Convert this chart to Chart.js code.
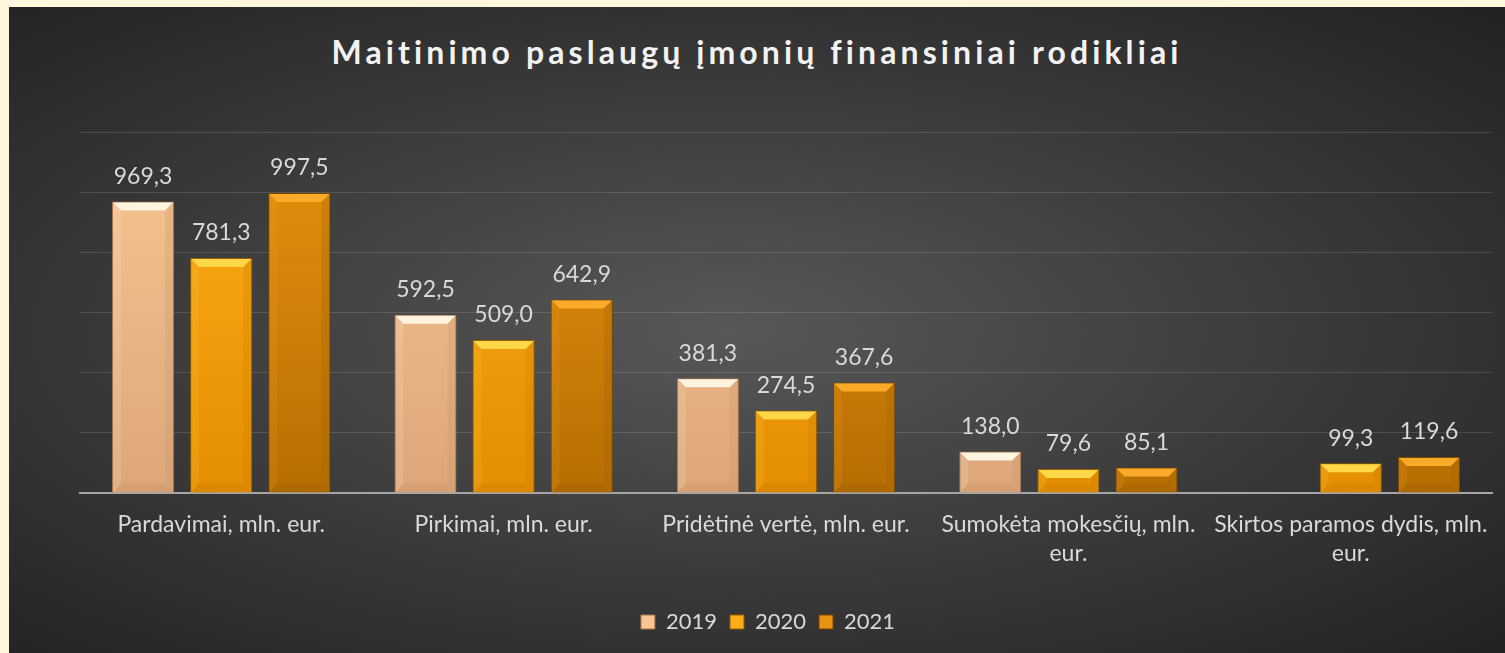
<!DOCTYPE html>
<html>
<head>
<meta charset="utf-8">
<script src="https://cdn.jsdelivr.net/npm/chart.js@4.4.1/dist/chart.umd.min.js"></script>
<style>
    html, body { margin: 0; padding: 0; background: #fff7dc; }
    #fonas {
        position: absolute; left: 9px; top: 7px; width: 1496px; height: 646px;
        background: radial-gradient(ellipse at 48% 50%, #585858 0%, #3c3c3c 50%, #222222 100%);
    }
    #antraste {
        position: absolute; left: 0; top: 25px; width: 100%; text-align: center;
        font: bold 32px Lato, sans-serif; letter-spacing: 4.1px; color: #f2f2f2;
    }
    #grafikas { position: absolute; left: 0; top: 0; }
</style>
</head>
<body>
<div id="fonas">
    <div id="antraste">Maitinimo paslaugų įmonių finansiniai rodikliai</div>
    <canvas id="grafikas" width="1496" height="646"></canvas>
</div>
<script>
/* maitinimo rodikliai */

var kategorijos = [
    "Pardavimai, mln. eur.",
    "Pirkimai, mln. eur.",
    "Pridėtinė vertė, mln. eur.",
    ["Sumokėta mokesčių, mln.", "eur."],
    ["Skirtos paramos dydis, mln.", "eur."]
];
var metai = ["2019", "2020", "2021"];
var reiksmes2019 = [969.3, 592.5, 381.3, 138.0, null];
var reiksmes2020 = [781.3, 509.0, 274.5, 79.6, 99.3];
var reiksmes2021 = [997.5, 642.9, 367.6, 85.1, 119.6];

// spalvos: virsus, apacia, nuozulnus krastas, remelis
var spalvos = [
    { virsus: "#f9c693", apacia: "#dca67a", sviesa: "#fff4df", tamsa: "#c8946a", remas: "#a8724a" },
    { virsus: "#ffad18", apacia: "#e48e02", sviesa: "#ffd84a", tamsa: "#c97c00", remas: "#9a5e00" },
    { virsus: "#e8920f", apacia: "#b66e02", sviesa: "#f8aa28", tamsa: "#9c5e00", remas: "#7a4600" }
];

function gradientas(i) {
    return function (context) {
        var chart = context.chart;
        var area = chart.chartArea;
        if (!area) return spalvos[i].virsus;
        var g = chart.ctx.createLinearGradient(0, area.top, 0, area.bottom);
        g.addColorStop(0, spalvos[i].virsus);
        g.addColorStop(1, spalvos[i].apacia);
        return g;
    };
}

function skaicius(v) {
    return v.toFixed(1).replace(".", ",");
}

// legenda truputi i kaire
var legendosPoslinkis = {
    id: "legendosPoslinkis",
    afterLayout: function (chart) {
        chart.legend.left -= 18;
        chart.legend.right -= 18;
    }
};

// nuozulnus stulpeliu krastas + reiksmiu uzrasai
var briaunos = {
    id: "briaunos",
    afterDatasetsDraw: function (chart) {
        var ctx = chart.ctx;
        chart.data.datasets.forEach(function (ds, i) {
            var meta = chart.getDatasetMeta(i);
            meta.data.forEach(function (bar, j) {
                if (ds.data[j] == null) return;
                var p = bar.getProps(["x", "y", "base", "width"], true);
                var l = p.x - p.width / 2, r = p.x + p.width / 2;
                var t = p.y, b = p.base;
                var d = Math.min(9, (b - t) / 2);
                ctx.save();
                ctx.fillStyle = spalvos[i].sviesa;
                ctx.beginPath();
                ctx.moveTo(l + 1, t + 1); ctx.lineTo(r - 1, t + 1);
                ctx.lineTo(r - d, t + d); ctx.lineTo(l + d, t + d);
                ctx.closePath(); ctx.fill();
                ctx.globalAlpha = 0.35;
                ctx.fillStyle = spalvos[i].tamsa;
                ctx.beginPath();
                ctx.moveTo(l + 1, b); ctx.lineTo(r - 1, b);
                ctx.lineTo(r - d, b - d); ctx.lineTo(l + d, b - d);
                ctx.closePath(); ctx.fill();
                ctx.globalAlpha = 0.25;
                ctx.beginPath();
                ctx.moveTo(r - 1, t + 1); ctx.lineTo(r - 1, b);
                ctx.lineTo(r - d, b - d); ctx.lineTo(r - d, t + d);
                ctx.closePath(); ctx.fill();
                ctx.globalAlpha = 0.15;
                ctx.fillStyle = spalvos[i].sviesa;
                ctx.beginPath();
                ctx.moveTo(l + 1, t + 1); ctx.lineTo(l + 1, b);
                ctx.lineTo(l + d, b - d); ctx.lineTo(l + d, t + d);
                ctx.closePath(); ctx.fill();
                ctx.restore();

                ctx.save();
                ctx.font = "23px Lato, sans-serif";
                ctx.fillStyle = "#d9d9d9";
                ctx.textAlign = "center";
                ctx.textBaseline = "middle";
                ctx.fillText(skaicius(ds.data[j]), p.x, t - 25);
                ctx.restore();
            });
        });
    }
};

var duomenys = [reiksmes2019, reiksmes2020, reiksmes2021].map(function (arr, i) {
    return {
        label: metai[i],
        data: arr,
        backgroundColor: gradientas(i),
        borderColor: spalvos[i].remas,
        borderWidth: 1,
        categoryPercentage: 0.83,
        barPercentage: 0.795
    };
});

new Chart(grafikas.getContext("2d"), {
    type: "bar",
    data: { labels: kategorijos, datasets: duomenys },
    options: {
        responsive: false,
        animation: false,
        layout: { padding: { top: 125, left: 71, right: 13, bottom: 10 } },
        scales: {
            y: {
                min: 0, max: 1200,
                ticks: { stepSize: 200, display: false },
                grid: { color: "rgba(255,255,255,0.13)", lineWidth: 1, drawTicks: false },
                border: { display: false }
            },
            x: {
                grid: { display: false },
                border: { color: "#a6a6a6", width: 2 },
                ticks: {
                    color: "#d9d9d9",
                    padding: 10,
                    maxRotation: 0,
                    autoSkip: false,
                    font: { family: "Lato, sans-serif", size: 23, lineHeight: 1.22 }
                },
                afterFit: function (scale) { scale.height = 105; }
            }
        },
        plugins: {
            legend: {
                position: "bottom",
                labels: {
                    color: "#d9d9d9",
                    boxWidth: 14,
                    boxHeight: 14,
                    padding: 13,
                    font: { family: "Lato, sans-serif", size: 22 },
                    generateLabels: function (chart) {
                        return chart.data.datasets.map(function (ds, i) {
                            return {
                                text: ds.label,
                                fillStyle: spalvos[i].virsus,
                                strokeStyle: spalvos[i].remas,
                                lineWidth: 1,
                                fontColor: "#d9d9d9",
                                datasetIndex: i
                            };
                        });
                    }
                }
            },
            tooltip: { enabled: false }
        }
    },
    plugins: [briaunos, legendosPoslinkis]
});
</script>
</body>
</html>
